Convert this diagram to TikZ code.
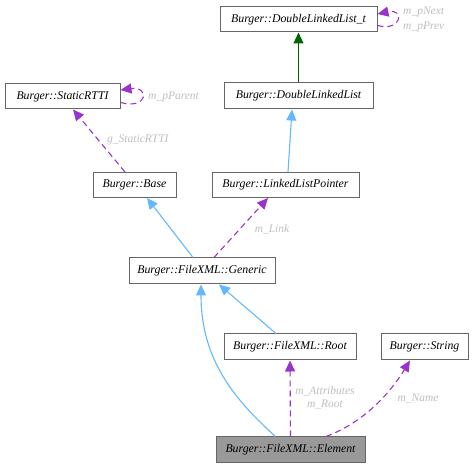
\documentclass[tikz,border=0pt]{standalone}
\usepackage{fontspec}
\setmainfont{Liberation Serif}
\usetikzlibrary{arrows.meta}
\definecolor{dxpurple}{HTML}{9A32CD}
\definecolor{dxblue}{HTML}{63B8FF}
\definecolor{dxgreen}{HTML}{006400}
\definecolor{dxlabel}{HTML}{BEBEBE}
\definecolor{dxborder}{HTML}{666666}
\definecolor{dxfill}{HTML}{999999}
\tikzset{
  cls/.style={draw=dxborder, line width=1pt, fill=white, inner sep=0pt, font=\itshape\fontsize{11.8}{13}\selectfont},
  uses/.style={-{Triangle[length=11pt,width=10pt,fill=dxpurple]}, draw=dxpurple, dash pattern=on 6pt off 4pt, line width=1.1pt},
  inh/.style={-{Triangle[length=11pt,width=10pt,fill=dxblue]}, draw=dxblue, line width=1.1pt},
  pub/.style={-{Triangle[length=11pt,width=10pt,fill=dxgreen]}, draw=dxgreen, line width=1.1pt},
  lbl/.style={text=dxlabel, font=\itshape\fontsize{11.5}{13}\selectfont, inner sep=0pt, align=center}
}
\begin{document}
\begin{tikzpicture}[x=1pt,y=-1pt]
\useasboundingbox (0,0) rectangle (475,468);
\node[cls, minimum width=157pt, minimum height=25pt] (dllt) at (298.5,19.5) {Burger::DoubleLinkedList\_t};
\node[cls, minimum width=149pt, minimum height=26pt] (dll) at (298.5,96) {Burger::DoubleLinkedList};
\node[cls, minimum width=115pt, minimum height=25pt] (rtti) at (62.5,96.5) {Burger::StaticRTTI};
\node[cls, minimum width=83pt, minimum height=25pt] (base) at (134.5,185) {Burger::Base};
\node[cls, minimum width=147pt, minimum height=25pt] (llp) at (285.5,185) {Burger::LinkedListPointer};
\node[cls, minimum width=146pt, minimum height=26pt] (gen) at (202,271) {Burger::FileXML::Generic};
\node[cls, minimum width=132pt, minimum height=26pt] (root) at (290,347) {Burger::FileXML::Root};
\node[cls, minimum width=87pt, minimum height=26pt] (str) at (424.5,347) {Burger::String};
\node[cls, fill=dxfill, minimum width=149pt, minimum height=26pt] (elem) at (290.5,450) {Burger::FileXML::Element};

% DLL -> DLL_t
\draw[pub] (dll.north) -- (dllt.south);
% DLL_t self loop
\coordinate (dlltA) at ([yshift=-6pt]dllt.east);
\coordinate (dlltB) at ([yshift=5.5pt]dllt.east);
\draw[uses] (dlltA) .. controls (402,32) and (405,8) .. (dlltB);
\node[lbl, anchor=west] (lblnext) at (403,12) {m\_pNext};
\node[lbl, anchor=west] (lblprev) at (403,27) {m\_pPrev};
% LLP -> DLL
\draw[inh] ([xshift=2.5pt]llp.north) -- ([xshift=-6.5pt]dll.south);
% StaticRTTI self loop
\coordinate (rttiA) at ([yshift=-6pt]rtti.east);
\coordinate (rttiB) at ([yshift=6.5pt]rtti.east);
\draw[uses] (rttiA) .. controls (148,110) and (150,86) .. (rttiB);
\node[lbl, anchor=west] (lblparent) at (148,96.5) {m\_pParent};
% Base -> StaticRTTI
\draw[uses] ([xshift=-9.5pt]base.north) -- ([xshift=10.5pt]rtti.south);
\node[lbl, anchor=west] (lblg) at (107,140) {g\_StaticRTTI};
% Generic -> Base
\draw[inh] ([xshift=-9pt]gen.north) -- ([xshift=12.5pt]base.south);
% Generic -> LLP
\draw[uses] ([xshift=12pt]gen.north) -- ([xshift=-17.5pt]llp.south);
\node[lbl] (lbllink) at (272,229) {m\_Link};
% Root -> Generic
\draw[inh] ([xshift=-14pt]root.north) -- ([xshift=17pt]gen.south);
% Element -> Generic (curve)
\draw[inh] ([xshift=-15pt]elem.north) .. controls (235,400) and (201,360) .. ([xshift=-1pt]gen.south);
% Element -> Root
\draw[uses] (elem.north) -- (root.south);
\node[lbl] (lblattr) at (325,398) {m\_Attributes\\m\_Root};
% Element -> String
\draw[uses] ([xshift=35.5pt]elem.north) .. controls (370,420) and (395,385) .. ([xshift=-14.5pt]str.south);
\node[lbl] (lblname) at (418,398) {m\_Name};
\end{tikzpicture}
\end{document}
